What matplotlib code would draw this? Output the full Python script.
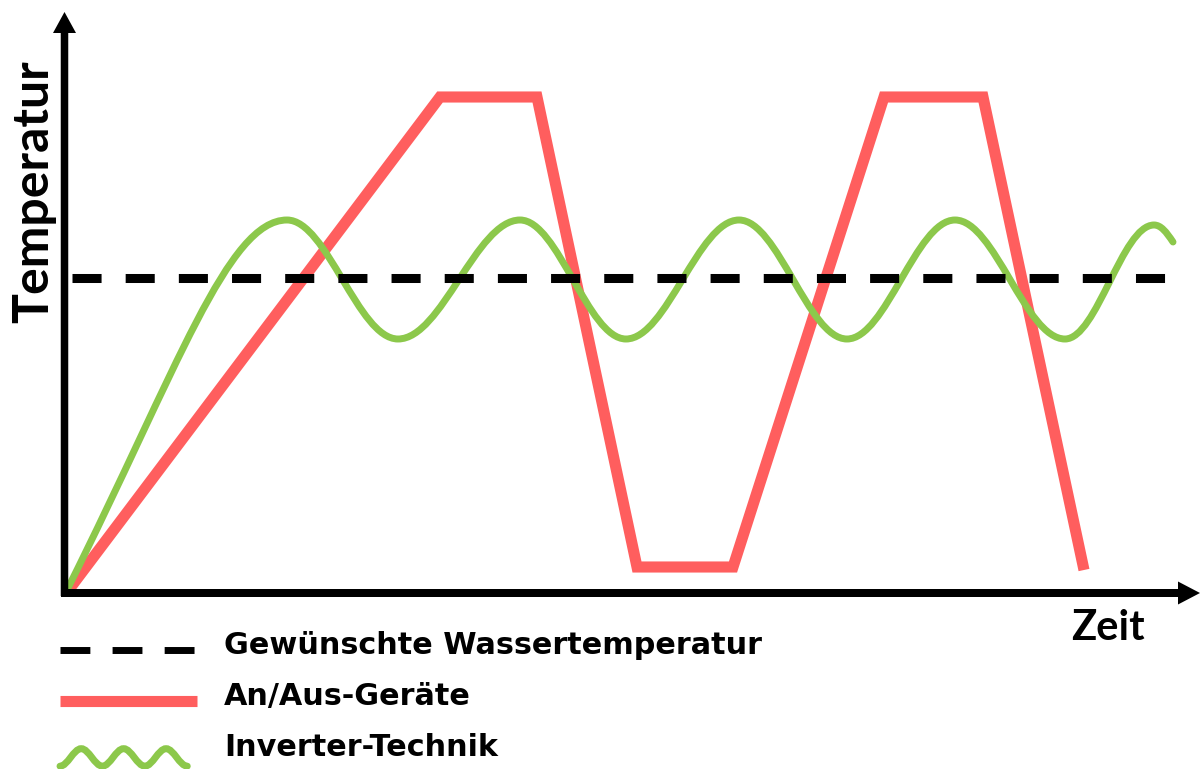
import numpy as np
import matplotlib
matplotlib.use("Agg")
import matplotlib.pyplot as plt
from matplotlib.path import Path
from matplotlib.patches import PathPatch
from matplotlib.lines import Line2D
from matplotlib.legend_handler import HandlerBase

# schematic units: time on x, temperature on y
desired_temp = 31.45
desired_span = [0.7, 110.5]

onoff_time = [0.4, 37.5, 47.2, 57.2, 66.8, 81.9, 91.8, 101.9]
onoff_temp = [0.3, 49.55, 49.55, 2.55, 2.55, 49.55, 49.55, 2.25]

# turning points of the inverter curve, with the slope at each point
inverter_time = [0.3, 22.2, 33.3, 45.5, 56.1, 67.4, 78.2, 89.0, 100.0, 108.9, 110.8]
inverter_temp = [0.45, 37.25, 25.35, 37.25, 25.35, 37.25, 25.35, 37.25, 25.35, 36.75, 35.05]
inverter_slope = [2.0, 0, 0, 0, 0, 0, 0, 0, 0, 0, -1.5]

labels = ["Gewünschte Wassertemperatur", "An/Aus-Geräte", "Inverter-Technik"]
x_label = "Zeit"
y_label = "Temperatur"

RED = "#FF5E5E"
GREEN = "#8CC84B"


def smooth_path(xs, ys, slopes, k=0.36, first=(0.5, 0.27)):
    verts = [(xs[0], ys[0])]
    codes = [Path.MOVETO]
    for i in range(len(xs) - 1):
        dx = xs[i + 1] - xs[i]
        a, b = first if i == 0 else (k, k)
        verts += [(xs[i] + a * dx, ys[i] + slopes[i] * a * dx),
                  (xs[i + 1] - b * dx, ys[i + 1] - slopes[i + 1] * b * dx),
                  (xs[i + 1], ys[i + 1])]
        codes += [Path.CURVE4] * 3
    return Path(verts, codes)


class IconHandler(HandlerBase):
    def __init__(self, kind, drop=5.0):
        super().__init__()
        self.kind = kind
        self.drop = drop

    def create_artists(self, legend, orig_handle, xdescent, ydescent,
                       width, height, fontsize, trans):
        x0 = -xdescent
        yc = height / 2 - ydescent - self.drop
        if self.kind == "wave":
            n = 6
            w = width * 0.93
            xs = [x0 + w * i / n for i in range(n + 1)]
            ys = [yc - 6.3 if i % 2 == 0 else yc + 6.3 for i in range(n + 1)]
            p = smooth_path(xs, ys, [0] * (n + 1), first=(0.36, 0.36))
            art = PathPatch(p, fill=False, edgecolor=GREEN, lw=5,
                            capstyle="round", transform=trans)
            return [art]
        line = Line2D([x0, x0 + width], [yc, yc], transform=trans)
        line.update_from(orig_handle)
        return [line]


fig = plt.figure(figsize=(12.01, 7.69), dpi=100)
ax = fig.add_axes([0, 0, 1, 1])
ax.set_xlim(-6.5, 113.6)
ax.set_ylim(-17.65, 59.25)
ax.axis("off")

# axes with arrow heads
ax.arrow(-0.05, -0.35, 0, 58.4, width=0.75, head_width=2.3, head_length=2.1,
         length_includes_head=True, color="black", lw=0, zorder=5)
ax.arrow(-0.4, -0.05, 113.9, 0, width=0.8, head_width=2.3, head_length=2.2,
         length_includes_head=True, color="black", lw=0, zorder=5)

ax.plot(onoff_time, onoff_temp, color=RED, lw=8, solid_joinstyle="miter",
        solid_capstyle="butt", zorder=2)

green = PathPatch(smooth_path(inverter_time, inverter_temp, inverter_slope),
                  fill=False, edgecolor=GREEN, lw=5, capstyle="round",
                  joinstyle="round", zorder=3)
ax.add_patch(green)

ax.plot(desired_span, [desired_temp, desired_temp], color="black", lw=6.5,
        linestyle=(0, (3.22, 2.67)), dash_capstyle="butt", zorder=4)

ax.text(104.25, -4.75, x_label, family="Lato", weight="bold", fontsize=30,
        ha="center", va="baseline")
ax.text(-3.1, 40.1, y_label, family="Lato", weight="bold", fontsize=36,
        rotation=90, ha="center", va="center")

h_dash = Line2D([], [], color="black", lw=5, linestyle=(0, (4.3, 3.2)),
                dash_capstyle="butt")
h_red = Line2D([], [], color=RED, lw=8, solid_capstyle="butt")
h_green = Line2D([], [], color=GREEN)
ax.legend([h_dash, h_red, h_green], labels,
          handler_map={h_dash: IconHandler("line"), h_red: IconHandler("line"),
                       h_green: IconHandler("wave", drop=8.5)},
          loc="upper left", bbox_to_anchor=(60 / 1201, 1 - 631 / 769),
          bbox_transform=fig.transFigure, frameon=False, borderpad=0,
          borderaxespad=0, handlelength=4.52, handletextpad=0.9,
          labelspacing=0.73,
          prop=dict(family="DejaVu Sans", weight="bold", size=21.8))

fig.savefig("out.png", dpi=100)
